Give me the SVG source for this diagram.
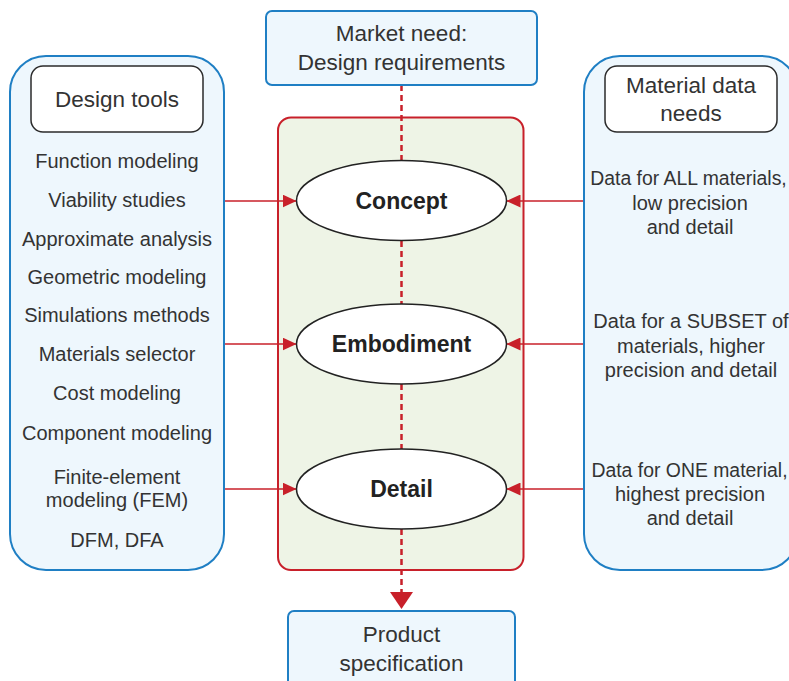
<svg xmlns="http://www.w3.org/2000/svg" width="789" height="681" viewBox="0 0 789 681">
<defs>
<style>
.panel{fill:#eef7fd;stroke:#1f7fc4;stroke-width:2}
.hdr{fill:#ffffff;stroke:#2b2b2b;stroke-width:1.5}
.t{font-family:"Liberation Sans",Arial,sans-serif;font-size:20px;fill:#333333;text-anchor:middle}
.s{font-size:19.4px}
.h{font-family:"Liberation Sans",Arial,sans-serif;font-size:22.5px;fill:#333333;text-anchor:middle}
.b{font-family:"Liberation Sans",Arial,sans-serif;font-size:23px;font-weight:bold;fill:#222222;text-anchor:middle}
.ell{fill:#ffffff;stroke:#222222;stroke-width:1.5}
.arr{stroke:#c8202a;stroke-width:1.5;fill:none}
.dash{stroke:#c8202a;stroke-width:2.5;stroke-dasharray:6 4;fill:none}
</style>
<marker id="ah" viewBox="0 0 14 13" refX="14" refY="6.5" markerWidth="14" markerHeight="13" markerUnits="userSpaceOnUse" orient="auto">
<path d="M0,0 L14,6.5 L0,13 Z" fill="#c8202a"/>
</marker>
</defs>
<rect width="789" height="681" fill="#ffffff"/>

<g id="stage-box">
<rect x="278" y="117.5" width="245.5" height="452.5" rx="13" fill="#eef4e6" stroke="#c8202a" stroke-width="2"/>
</g>

<g id="connectors">
<line class="dash" x1="401.5" y1="85" x2="401.5" y2="160"/>
<line class="dash" x1="401.5" y1="241" x2="401.5" y2="304"/>
<line class="dash" x1="401.5" y1="384" x2="401.5" y2="449"/>
<line class="dash" x1="401.5" y1="529" x2="401.5" y2="593"/>
<path d="M390,592 L413,592 L401.5,609 Z" fill="#c8202a"/>
<line class="arr" x1="224" y1="201" x2="296.5" y2="201" marker-end="url(#ah)"/>
<line class="arr" x1="224" y1="344" x2="296.5" y2="344" marker-end="url(#ah)"/>
<line class="arr" x1="224" y1="489" x2="296.5" y2="489" marker-end="url(#ah)"/>
<line class="arr" x1="584" y1="201" x2="506.5" y2="201" marker-end="url(#ah)"/>
<line class="arr" x1="584" y1="344" x2="506.5" y2="344" marker-end="url(#ah)"/>
<line class="arr" x1="584" y1="489" x2="506.5" y2="489" marker-end="url(#ah)"/>
</g>

<g id="market-need">
<rect class="panel" x="266" y="11" width="271" height="74" rx="6"/>
<text class="h" x="401.5" y="41">Market need:</text>
<text class="h" x="401.5" y="70">Design requirements</text>
</g>

<g id="product-spec">
<rect class="panel" x="288" y="611" width="227" height="90" rx="6"/>
<text class="h" x="401.5" y="642">Product</text>
<text class="h" x="401.5" y="671">specification</text>
</g>

<g id="design-tools">
<rect class="panel" x="10" y="56" width="214" height="514" rx="36"/>
<rect class="hdr" x="31" y="66" width="172" height="66" rx="12"/>
<text class="h" x="117" y="107">Design tools</text>
<text class="t" x="117" y="168">Function modeling</text>
<text class="t" x="117" y="207">Viability studies</text>
<text class="t" x="117" y="246">Approximate analysis</text>
<text class="t" x="117" y="284">Geometric modeling</text>
<text class="t" x="117" y="322">Simulations methods</text>
<text class="t" x="117" y="361">Materials selector</text>
<text class="t" x="117" y="400">Cost modeling</text>
<text class="t" x="117" y="440">Component modeling</text>
<text class="t" x="117" y="484">Finite-element</text>
<text class="t" x="117" y="507">modeling (FEM)</text>
<text class="t" x="117" y="547">DFM, DFA</text>
</g>

<g id="material-data">
<rect class="panel" x="584" y="56" width="214" height="514" rx="36"/>
<rect class="hdr" x="605" y="66" width="172" height="66" rx="12"/>
<text class="h" x="691" y="92.5">Material data</text>
<text class="h" x="691" y="120.5">needs</text>
<text class="t s" x="688.5" y="185">Data for ALL materials,</text>
<text class="t" x="690" y="210">low precision</text>
<text class="t" x="690" y="234">and detail</text>
<text class="t" x="691" y="327.5">Data for a SUBSET of</text>
<text class="t" x="691" y="352.5">materials, higher</text>
<text class="t" x="691" y="377">precision and detail</text>
<text class="t s" x="689.5" y="477">Data for ONE material,</text>
<text class="t" x="690" y="501">highest precision</text>
<text class="t" x="690" y="525">and detail</text>
</g>

<g id="concept">
<ellipse class="ell" cx="401.5" cy="200.5" rx="105" ry="40"/>
<text class="b" x="401.5" y="209">Concept</text>
</g>
<g id="embodiment">
<ellipse class="ell" cx="401.5" cy="344" rx="105" ry="40"/>
<text class="b" x="401.5" y="352">Embodiment</text>
</g>
<g id="detail">
<ellipse class="ell" cx="401.5" cy="489" rx="105" ry="40"/>
<text class="b" x="401.5" y="497">Detail</text>
</g>
</svg>
